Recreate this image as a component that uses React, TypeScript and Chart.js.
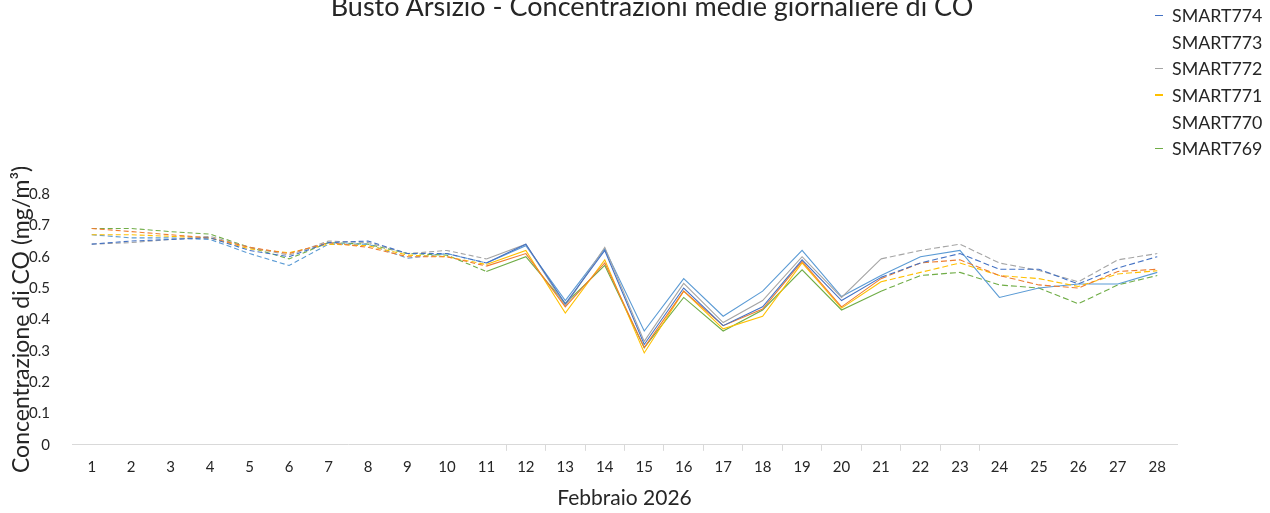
import React, { useEffect, useRef } from "react";
import { Chart, registerables } from "chart.js";

Chart.register(...registerables);

const days = Array.from({ length: 28 }, (_, i) => String(i + 1));

const smart774 = [0.64, 0.65, 0.655, 0.66, 0.62, 0.6, 0.645, 0.65, 0.61, 0.61, 0.58, 0.64, 0.45, 0.62, 0.32, 0.5, 0.38, 0.44, 0.59, 0.46, 0.534, 0.58, 0.61, 0.56, 0.56, 0.513, 0.564, 0.6];
const smart773 = [0.69, 0.68, 0.67, 0.66, 0.63, 0.61, 0.645, 0.63, 0.6, 0.6, 0.57, 0.61, 0.44, 0.58, 0.31, 0.49, 0.38, 0.433, 0.585, 0.44, 0.53, 0.58, 0.59, 0.54, 0.51, 0.5, 0.553, 0.56];
const smart772 = [0.64, 0.645, 0.655, 0.665, 0.63, 0.605, 0.65, 0.645, 0.61, 0.62, 0.593, 0.64, 0.443, 0.63, 0.33, 0.515, 0.39, 0.46, 0.6, 0.47, 0.593, 0.62, 0.64, 0.58, 0.556, 0.52, 0.59, 0.61];
const smart771 = [0.67, 0.67, 0.665, 0.66, 0.625, 0.613, 0.64, 0.635, 0.605, 0.6, 0.575, 0.62, 0.42, 0.59, 0.293, 0.49, 0.37, 0.41, 0.58, 0.436, 0.52, 0.55, 0.58, 0.54, 0.53, 0.505, 0.545, 0.555];
const smart770 = [0.67, 0.66, 0.66, 0.655, 0.61, 0.572, 0.64, 0.64, 0.595, 0.61, 0.58, 0.635, 0.46, 0.625, 0.363, 0.53, 0.41, 0.49, 0.62, 0.473, 0.54, 0.6, 0.62, 0.47, 0.5, 0.513, 0.513, 0.55];
const smart769 = [0.69, 0.69, 0.68, 0.672, 0.63, 0.593, 0.645, 0.64, 0.61, 0.605, 0.553, 0.6, 0.45, 0.572, 0.31, 0.47, 0.363, 0.43, 0.558, 0.43, 0.49, 0.54, 0.55, 0.51, 0.5, 0.45, 0.51, 0.54];

const yTicks = [0, 0.1, 0.2, 0.3, 0.4, 0.5, 0.6, 0.7, 0.8];

const seriesNames = ["SMART774", "SMART773", "SMART772", "SMART771", "SMART770", "SMART769"];
const seriesValues = [smart774, smart773, smart772, smart771, smart770, smart769];
const seriesColors = ["#4472C4", "#ED7D31", "#A5A5A5", "#FFC000", "#5B9BD5", "#70AD47"];
const legendMarker = [true, false, true, true, false, true];
const lateDashed = [true, true, true, true, false, true];

const FONT = "Lato, 'Open Sans', sans-serif";
const TEXT = "#262626";

export default function App() {
  const ref = useRef<HTMLCanvasElement | null>(null);

  useEffect(() => {
    document.body.style.margin = "0";
    const canvas = ref.current;
    if (!canvas) return;
    const chart = new Chart(canvas, {
      type: "line",
      data: {
        labels: days,
        datasets: seriesNames.map((name, i) => ({
          label: name,
          data: seriesValues[i],
          borderColor: seriesColors[i],
          backgroundColor: seriesColors[i],
          borderWidth: 1.1,
          pointRadius: 0,
          tension: 0,
          fill: false,
          segment: {
            borderDash: (ctx: any) => {
              const k = ctx.p0DataIndex;
              if (k < 10) return [5, 3];
              if (k >= 20 && lateDashed[i]) return [6, 3];
              return [];
            },
          },
        })),
      },
      options: {
        responsive: false,
        animation: false,
        events: [],
        layout: { padding: { top: 194, right: 93, left: 0, bottom: 2 } },
        plugins: {
          legend: { display: false },
          title: { display: false },
          tooltip: { enabled: false },
        },
        scales: {
          x: {
            type: "category",
            offset: true,
            grid: {
              offset: true,
              drawOnChartArea: false,
              drawTicks: true,
              tickLength: 6,
              color: (ctx: any) => (ctx.index >= 11 && ctx.index <= 23 ? "#D9D9D9" : "rgba(0,0,0,0)"),
            },
            border: { display: true, color: "#D9D9D9", width: 1 },
            ticks: { color: TEXT, font: { family: FONT, size: 15 }, padding: 7, maxRotation: 0, autoSkip: false },
            title: { display: true, text: "Febbraio 2026", color: TEXT, font: { family: FONT, size: 21 }, padding: { top: 3, bottom: 0 } },
          },
          y: {
            min: 0,
            max: 0.8,
            afterBuildTicks: (axis: any) => {
              axis.ticks = yTicks.map((v) => ({ value: v }));
            },
            afterFit: (axis: any) => {
              axis.width = 72;
            },
            grid: { display: false },
            border: { display: false },
            ticks: {
              color: TEXT,
              font: { family: FONT, size: 15 },
              padding: 14,
              callback: (v: any) => (v === 0 ? "0" : Number(v).toFixed(1)),
            },
            title: { display: true, text: "Concentrazione di CO (mg/m³)", color: TEXT, font: { family: FONT, size: 23 }, padding: { top: 8, bottom: 0 } },
          },
        },
      },
    });
    return () => chart.destroy();
  }, []);

  return (
    <div style={{ position: "relative", width: 1270, height: 513, overflow: "hidden", background: "#fff" }}>
      <canvas ref={ref} width={1270} height={513} style={{ display: "block" }} />
      <div
        style={{
          position: "absolute",
          left: 0,
          width: 1304,
          top: -11,
          textAlign: "center",
          fontFamily: FONT,
          fontSize: 27,
          color: TEXT,
          whiteSpace: "nowrap",
        }}
      >
        Busto Arsizio - Concentrazioni medie giornaliere di CO
      </div>
      <div style={{ position: "absolute", left: 1155, top: 2, fontFamily: FONT, fontSize: 17.8, color: TEXT }}>
        {seriesNames.map((name, i) => (
          <div key={name} style={{ display: "flex", alignItems: "center", height: 26.6 }}>
            <span
              style={{
                display: "inline-block",
                width: 8,
                height: 1.5,
                marginRight: 9,
                background: legendMarker[i] ? seriesColors[i] : "transparent",
              }}
            />
            <span>{name}</span>
          </div>
        ))}
      </div>
    </div>
  );
}
